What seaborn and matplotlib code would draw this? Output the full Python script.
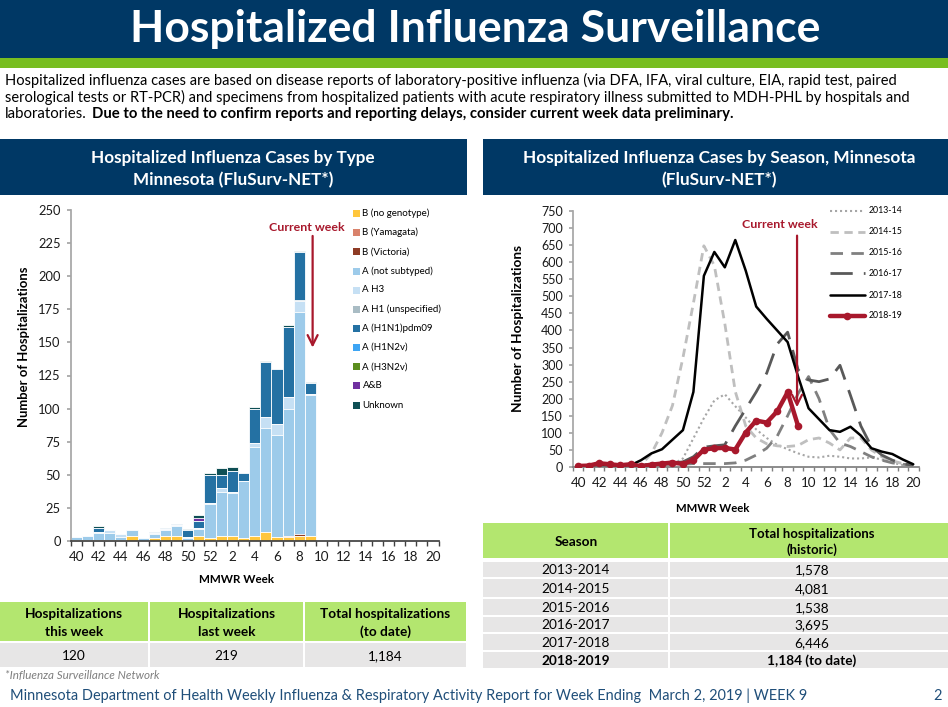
import numpy as np
import pandas as pd
import matplotlib
matplotlib.use("Agg")
import matplotlib.pyplot as plt
import seaborn as sns
from matplotlib.transforms import Affine2D
from matplotlib.patches import Rectangle
from matplotlib.lines import Line2D

# ---------------- data ----------------
week_labels = ['40', '41', '42', '43', '44', '45', '46', '47', '48', '49', '50', '51', '52',
               '1', '2', '3', '4', '5', '6', '7', '8', '9', '10', '11', '12', '13', '14',
               '15', '16', '17', '18', '19', '20']
weeks_reported = week_labels[:22]   # weeks 40 .. 9 of 2018-19

b_no_genotype = [1, 1, 1, 1, 1, 4, 0, 2, 4, 4, 0, 4, 2, 4, 4, 2, 4, 7, 3, 3, 4, 4]
b_yamagata    = [0, 0, 0, 0, 0, 0, 0, 0, 0, 0, 0, 0, 0, 0, 0, 0, 0, 0, 0, 1, 0, 0]
b_victoria    = [0, 0, 0, 0, 0, 0, 0, 0, 0, 0, 0, 0, 0, 0, 0, 0, 0, 0, 0, 0, 1, 0]
a_not_subtyped = [2, 3, 5, 5, 2, 4, 2, 3, 4, 7, 2, 5, 26, 33, 32, 43, 67, 78, 77, 96, 168, 106]
a_h3          = [0, 0, 1, 2, 2, 0, 0, 1, 1, 1, 1, 1, 1, 3, 1, 0, 3, 9, 8, 9, 8, 1]
a_h1_unspec   = [0, 0, 0, 0, 0, 0, 0, 0, 0, 0, 0, 0, 0, 0, 0, 0, 0, 0, 0, 0, 1, 0]
a_h1n1pdm09   = [0, 0, 3, 0, 0, 0, 0, 1, 1, 1, 5, 5, 21, 10, 16, 6, 26, 41, 42, 53, 36, 8]
a_h1n2v       = [0] * 22
a_h3n2v       = [0] * 22
a_and_b       = [0, 0, 0, 0, 0, 0, 0, 0, 0, 0, 0, 2, 0, 0, 0, 0, 0, 0, 0, 0, 0, 0]
unknown       = [0, 0, 1, 0, 0, 0, 0, 0, 0, 0, 1, 3, 1, 5, 3, 0, 1, 1, 0, 1, 1, 1]

type_names = ['B (no genotype)', 'B (Yamagata)', 'B (Victoria)', 'A (not subtyped)', 'A H3',
              'A H1 (unspecified)', 'A (H1N1)pdm09', 'A (H1N2v)', 'A (H3N2v)', 'A&B', 'Unknown']
type_values = [b_no_genotype, b_yamagata, b_victoria, a_not_subtyped, a_h3, a_h1_unspec,
               a_h1n1pdm09, a_h1n2v, a_h3n2v, a_and_b, unknown]
type_colors = ['#FFC63C', '#D9826B', '#8E3B25', '#9DCBEA', '#C6E0F4', '#A9BCC4',
               '#2471A3', '#3DA5F4', '#5B8E1E', '#7030A0', '#0E4F55']

season_names = ['2013-14', '2014-15', '2015-16', '2016-17', '2017-18', '2018-19']
s2013_14 = [1, 1, 1, 1, 2, 2, 3, 3, 5, 8, 25, 84, 143, 195, 213, 178, 145, 110, 85, 65, 52, 40,
            30, 28, 33, 30, 25, 25, 28, 22, 12, 6, 3]
s2014_15 = [1, 1, 2, 2, 3, 4, 6, 40, 100, 180, 320, 480, 648, 590, 420, 221, 120, 85, 68, 62, 60,
            63, 80, 85, 70, 50, 85, 85, 50, 30, 18, 10, 5]
s2015_16 = [3, 3, 4, 4, 5, 5, 6, 6, 7, 8, 8, 10, 10, 10, 10, 12, 20, 35, 55, 90, 150, 215, 265,
            200, 110, 70, 60, 45, 30, 20, 12, 8, 5]
s2016_17 = [2, 2, 3, 3, 4, 5, 6, 8, 10, 12, 15, 30, 58, 62, 65, 120, 170, 220, 275, 360, 395, 285,
            255, 250, 258, 298, 210, 120, 60, 35, 20, 10, 5]
s2017_18 = [2, 2, 3, 3, 4, 5, 20, 40, 52, 80, 108, 220, 560, 630, 585, 665, 575, 470, 434, 400,
            366, 265, 172, 140, 108, 103, 118, 92, 55, 45, 38, 22, 8]

summary_headers = ['Hospitalizations\nthis week', 'Hospitalizations\nlast week',
                   'Total hospitalizations\n(to date)']
summary_values = ['120', '219', '1,184']
hist_seasons = ['2013-2014', '2014-2015', '2015-2016', '2016-2017', '2017-2018', '2018-2019']
hist_totals = ['1,578', '4,081', '1,538', '3,695', '6,446', '1,184 (to date)']

# ---------------- styling ----------------
NAVY = '#003865'
GREEN_STRIPE = '#78BE20'
TABLE_GREEN = '#B3E66F'
TABLE_GREY = '#E7E6E6'
RED = '#A8182C'
FOOT = '#1F4E79'

sns.set_theme(style='white')
plt.rcParams['font.family'] = ['Lato', 'DejaVu Sans']
plt.rcParams['axes.unicode_minus'] = False

W, H = 948, 707
fig = plt.figure(figsize=(W / 100, H / 100), dpi=100)
fig.patch.set_facecolor('white')
px = Affine2D().scale(1 / W, -1 / H).translate(0, 1) + fig.transFigure
renderer = fig.canvas.get_renderer()


def box(x0, y0, x1, y1, color):
    fig.patches.append(Rectangle((x0, y0), x1 - x0, y1 - y0, transform=px,
                                 facecolor=color, edgecolor='none', zorder=0))


def txt(x, y, s, size=10, **kw):
    kw.setdefault('va', 'baseline')
    return fig.text(x, y, s, transform=px, fontsize=size, **kw)


def fit(t, target, vertical=False):
    for _ in range(3):
        bb = t.get_window_extent(renderer)
        cur = bb.height if vertical else bb.width
        t.set_fontsize(t.get_fontsize() * target / cur)
    return t.get_fontsize()


def axes_px(x0, y0, x1, y1):
    return fig.add_axes([x0 / W, 1 - y1 / H, (x1 - x0) / W, (y1 - y0) / H])


# ---------------- page header ----------------
box(0, 0, W, 58, NAVY)
box(0, 58, W, 68, GREEN_STRIPE)
t = txt(475, 42, 'Hospitalized Influenza Surveillance', 28, color='white',
        fontweight='bold', ha='center')
fit(t, 690)

p1 = txt(5, 85, 'Hospitalized influenza cases are based on disease reports of laboratory-positive '
         'influenza (via DFA, IFA, viral culture, EIA, rapid test, paired', 10.5, color='black')
fs_p = fit(p1, 892)
txt(5, 101.7, 'serological tests or RT-PCR) and specimens from hospitalized patients with acute '
    'respiratory illness submitted to MDH-PHL by hospitals and', fs_p, color='black')
p3 = txt(5, 118.3, 'laboratories.', fs_p, color='black')
fit(p3, 82)
pb = txt(92, 118.3, 'Due to the need to confirm reports and reporting delays, consider '
         'current week data preliminary.', fs_p, color='black', fontweight='bold')
fit(pb, 644)

# ---------------- section headers ----------------
box(0, 139, 467, 195, NAVY)
box(483, 139, W, 195, NAVY)
h1 = txt(233, 163, 'Hospitalized Influenza Cases by Type', 11, color='white',
         fontweight='bold', ha='center')
fs_h = fit(h1, 285)
txt(233, 185, 'Minnesota (FluSurv-NET*)', fs_h, color='white', fontweight='bold', ha='center')
h2 = txt(719, 163, 'Hospitalized Influenza Cases by Season, Minnesota', fs_h, color='white',
         fontweight='bold', ha='center')
fit(h2, 392)
txt(719, 185, '(FluSurv-NET*)', h2.get_fontsize(), color='white', fontweight='bold', ha='center')

# ---------------- left chart: stacked bars ----------------
axL = axes_px(70.7, 210, 438.6, 541)
bars = pd.DataFrame(dict(zip(type_names, type_values)))
bars.insert(0, 'week', weeks_reported)
cum = bars[type_names].cumsum(axis=1)
for name, color in reversed(list(zip(type_names, type_colors))):
    sns.barplot(x=bars['week'], y=cum[name], order=week_labels, color=color, saturation=1,
                width=1.0, edgecolor='white', linewidth=0.6, errorbar=None, ax=axL)

axL.set_xlim(-0.5, len(week_labels) - 0.5)
axL.set_ylim(0, 250)
axL.set_yticks(np.arange(0, 251, 25))
axL.set_xticks(np.arange(0, len(week_labels), 2))
axL.set_xticklabels(week_labels[::2])
axL.set_xticks(np.arange(-0.5, len(week_labels), 1), minor=True)
axL.set_xlabel('')
axL.set_ylabel('')
for s in ['top', 'right']:
    axL.spines[s].set_visible(False)
axL.spines['left'].set_color('#A6A6A6')
axL.spines['bottom'].set_color('#404040')
axL.tick_params(axis='y', length=3, color='#A6A6A6', labelsize=9.3, pad=4.2, left=True,
                labelcolor='#1a1a1a')
axL.tick_params(axis='x', which='major', length=0, labelsize=9.6, pad=7.5, labelcolor='#1a1a1a')
axL.tick_params(axis='x', which='minor', length=3.5, color='#404040', bottom=True)
axL.set_facecolor('none')

ctL = axL.text(20.7, 237, 'Current week', color=RED, fontweight='bold', fontsize=9, ha='center',
               va='center')
fit(ctL, 75)
axL.annotate('', xy=(21.2, 144), xytext=(21.2, 232.5),
             arrowprops=dict(arrowstyle='->', color=RED, lw=1.6, mutation_scale=18))

yl = txt(24, 347, 'Number of Hospitalizations', 9, rotation=90, fontweight='bold',
         ha='center', va='center', color='black')
fit(yl, 160, vertical=True)
xl = txt(236.5, 583, 'MMWR Week', 9.5, fontweight='bold', ha='center', color='black')
fit(xl, 75)

# left legend (manual)
leg_y = [213.3, 232.3, 251.7, 271, 290, 309, 328, 347, 366.7, 385.7, 405]
leg_fs = None
for i, (name, color) in enumerate(zip(type_names, type_colors)):
    yy = leg_y[i]
    box(353, yy - 3.5, 360, yy + 3.5, color)
    tt = txt(362.5, yy, name, 7, va='center', color='black')
    if name == 'A H1 (unspecified)':
        leg_fs = fit(tt, 79)
for tt in fig.texts[-len(type_names):]:
    tt.set_fontsize(leg_fs)

# ---------------- right chart: lines by season ----------------
axR = axes_px(573, 211, 918.5, 467)
x_idx = np.arange(len(week_labels))
styles = [
    dict(color='#A6A6A6', lw=1.5, linestyle=(0, (1, 1.4))),
    dict(color='#BFBFBF', lw=2.0, linestyle=(0, (3, 2))),
    dict(color='#808080', lw=2.0, linestyle=(0, (4.5, 3))),
    dict(color='#595959', lw=2.0, linestyle=(0, (8, 4))),
    dict(color='black', lw=1.8, linestyle='-'),
    dict(color=RED, lw=3.2, linestyle='-', marker='o', markersize=5.5, markeredgewidth=0),
]
season_series = [s2013_14, s2014_15, s2015_16, s2016_17, s2017_18]
for name, vals, st in zip(season_names[:5], season_series, styles[:5]):
    sns.lineplot(x=x_idx, y=vals, ax=axR, legend=False, **st)
totals_1819 = cum['Unknown'].to_numpy()
sns.lineplot(x=x_idx[:len(totals_1819)], y=totals_1819, ax=axR, legend=False, zorder=5,
             **styles[5])

axR.set_xlim(-0.5, len(week_labels) - 0.5)
axR.set_ylim(0, 750)
axR.set_yticks(np.arange(0, 751, 50))
axR.set_xticks(np.arange(0, len(week_labels), 2))
axR.set_xticklabels(week_labels[::2])
axR.set_xticks(np.arange(-0.5, len(week_labels), 1), minor=True)
axR.set_xlabel('')
axR.set_ylabel('')
for s in ['top', 'right']:
    axR.spines[s].set_visible(False)
axR.spines['left'].set_color('#A6A6A6')
axR.spines['bottom'].set_color('#7F7F7F')
axR.tick_params(axis='y', length=3, color='#A6A6A6', labelsize=9.0, pad=4.2, left=True,
                labelcolor='#1a1a1a')
axR.tick_params(axis='x', which='major', length=0, labelsize=9.6, pad=7.5, labelcolor='#1a1a1a')
axR.tick_params(axis='x', which='minor', length=3, color='#7F7F7F', bottom=True)
axR.set_facecolor('none')

ctR = axR.text(19.3, 710, 'Current week', color=RED, fontweight='bold', fontsize=9, ha='center',
               va='center')
fit(ctR, 75)
axR.annotate('', xy=(20.9, 167), xytext=(20.9, 686),
             arrowprops=dict(arrowstyle='->', color=RED, lw=1.6, mutation_scale=18))

yr = txt(518, 328, 'Number of Hospitalizations', 9, rotation=90, fontweight='bold',
         ha='center', va='center', color='black')
fit(yr, 167, vertical=True)
xr = txt(713, 512, 'MMWR Week', 9.5, fontweight='bold', ha='center', color='black')
fit(xr, 74)

# right legend (manual)
rleg_y = [210.7, 232, 252.7, 273, 295, 316]
rl_texts = []
for yy, name, st in zip(rleg_y, season_names, styles):
    fig.lines.append(Line2D([830, 865], [yy, yy], transform=px, color=st['color'], lw=st['lw'],
                            linestyle=st['linestyle']))
    if 'marker' in st:
        fig.lines.append(Line2D([847.5], [yy], transform=px, color=st['color'], marker='o',
                                markersize=5.5, markeredgewidth=0))
    rl_texts.append(txt(869, yy, name, 7.5, va='center', color='black'))
rfs = fit(rl_texts[0], 34)
for tt in rl_texts:
    tt.set_fontsize(rfs)

# ---------------- left summary table ----------------
cols_L = [(0, 148), (150, 303), (305, 466)]
for (x0, x1), head, val in zip(cols_L, summary_headers, summary_values):
    box(x0, 602, x1, 641, TABLE_GREEN)
    box(x0, 643, x1, 667, TABLE_GREY)
cx = [(a + b) / 2 for a, b in cols_L]
th = txt(cx[0], 618, 'Hospitalizations', 10, fontweight='bold', ha='center', color='black')
fs_t = fit(th, 98)
for i, (head, val) in enumerate(zip(summary_headers, summary_values)):
    l1, l2 = head.split('\n')
    if i > 0:
        txt(cx[i], 618, l1, fs_t, fontweight='bold', ha='center', color='black')
    txt(cx[i], 636, l2, fs_t, fontweight='bold', ha='center', color='black')
    txt(cx[i], 660, val, fs_t, ha='center', color='black')

fn = txt(5, 679, '*Influenza Surveillance Network', 7.5, style='italic', color='#7F7F7F')
fit(fn, 155)

# ---------------- right historic table ----------------
box(483, 523, 668, 558, TABLE_GREEN)
box(670, 523, W, 558, TABLE_GREEN)
row_bounds = [(562, 577), (579, 597), (599, 615), (617, 632), (634, 650), (652, 668)]
row_base = [574, 592.7, 611.7, 629.3, 647.3, 665]
for (y0, y1) in row_bounds:
    box(483, y0, 668, y1, TABLE_GREY)
    box(670, y0, W, y1, TABLE_GREY)
txt(576, 546, 'Season', fs_t, fontweight='bold', ha='center', color='black')
tr = txt(812, 538, 'Total hospitalizations', fs_t, fontweight='bold', ha='center', color='black')
fit(tr, 125)
txt(812, 554, '(historic)', tr.get_fontsize(), fontweight='bold', ha='center', color='black')
for i, (season, tot) in enumerate(zip(hist_seasons, hist_totals)):
    w = 'bold' if i == len(hist_seasons) - 1 else 'normal'
    txt(576, row_base[i], season, fs_t, fontweight=w, ha='center', color='black')
    txt(812, row_base[i], tot, fs_t, fontweight=w, ha='center', color='black')

# ---------------- footer ----------------
ft = txt(10, 700, 'Minnesota Department of Health Weekly Influenza & Respiratory Activity Report '
         'for Week Ending  March 2, 2019 | WEEK 9', 12, color=FOOT)
fit(ft, 798)
txt(938, 700, '2', ft.get_fontsize(), color=FOOT, ha='center')

fig.savefig('out.png', dpi=100, facecolor='white')
